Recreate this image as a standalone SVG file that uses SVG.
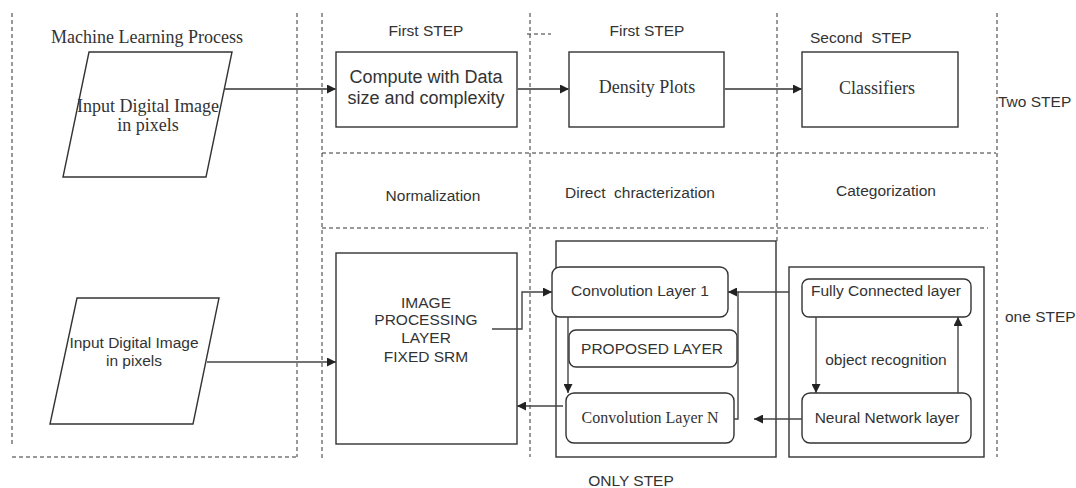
<svg xmlns="http://www.w3.org/2000/svg" width="1076" height="488" viewBox="0 0 1076 488">
<style>
.bg{fill:#fff}
.dash{fill:none;stroke:#333;stroke-width:1;stroke-dasharray:4 3}
.box{fill:#fff;stroke:#333;stroke-width:1.4}
.rbox{fill:#fff;stroke:#333;stroke-width:1.4}
.con{fill:none;stroke:#444;stroke-width:1.4}
.sans{font-family:"Liberation Sans",Arial,sans-serif;font-size:15.5px;fill:#333}
.serif{font-family:"Liberation Serif","Times New Roman",serif;font-size:18px;fill:#333}
.c{text-anchor:middle}
</style>
<defs>
<marker id="arr" viewBox="0 0 10 10" refX="10" refY="5" markerWidth="9" markerHeight="9" markerUnits="userSpaceOnUse" orient="auto">
<path d="M0,0 L10,5 L0,10 z" fill="#222"/>
</marker>
</defs>
<rect class="bg" x="0" y="0" width="1076" height="488"/>

<g id="lanes">
<line class="dash" x1="12" y1="13" x2="12" y2="447"/>
<line class="dash" x1="12" y1="457" x2="297" y2="457"/>
<line class="dash" x1="297" y1="13" x2="297" y2="457"/>
<line class="dash" x1="322" y1="13" x2="322" y2="458"/>
<line class="dash" x1="530" y1="13" x2="530" y2="457"/>
<line class="dash" x1="527" y1="34" x2="551" y2="34"/>
<line class="dash" x1="777" y1="13" x2="777" y2="241"/>
<line class="dash" x1="997" y1="13" x2="997" y2="457"/>
<line class="dash" x1="322" y1="153" x2="996" y2="153"/>
<line class="dash" x1="322" y1="228" x2="988" y2="228"/>
</g>

<g id="labels">
<text class="serif c" x="147" y="43">Machine Learning Process</text>
<text class="sans c" x="426" y="36">First STEP</text>
<text class="sans c" x="647" y="36">First STEP</text>
<text class="sans" x="810" y="43" xml:space="preserve">Second  STEP</text>
<text class="sans" x="998" y="107">Two STEP</text>
<text class="sans c" x="433" y="201">Normalization</text>
<text class="sans" x="565" y="198" xml:space="preserve">Direct  chracterization</text>
<text class="sans c" x="886" y="196">Categorization</text>
<text class="sans" x="1005" y="322">one STEP</text>
<text class="sans c" x="631" y="486">ONLY STEP</text>
</g>

<g id="input1">
<polygon class="box" points="89,52 232,52 206,177 63,177"/>
<text class="serif c" x="148" y="112">Input Digital Image</text>
<text class="serif c" x="148" y="131">in pixels</text>
</g>

<g id="compute">
<rect class="box" x="336" y="52" width="181" height="75"/>
<text class="sans c" x="426" y="83" style="font-size:18px">Compute with Data</text>
<text class="sans c" x="426" y="104" style="font-size:18px">size and complexity</text>
</g>

<g id="density">
<rect class="box" x="569" y="52" width="155" height="75"/>
<text class="serif c" x="647" y="93">Density Plots</text>
</g>

<g id="classifiers">
<rect class="box" x="802" y="52" width="156" height="75"/>
<text class="serif c" x="877" y="94">Classifiers</text>
</g>

<g id="input2">
<polygon class="box" points="77,298 219,298 193,424 50,424"/>
<text class="sans c" x="134" y="348">Input Digital Image</text>
<text class="sans c" x="134" y="366">in pixels</text>
</g>

<g id="imageproc">
<rect class="box" x="336" y="253" width="181" height="191"/>
<text class="sans c" x="426" y="308">IMAGE</text>
<text class="sans c" x="426" y="325">PROCESSING</text>
<text class="sans c" x="426" y="343">LAYER</text>
<text class="sans c" x="426" y="362">FIXED SRM</text>
</g>

<g id="onlystep">
<rect class="box" x="556" y="241" width="220" height="216"/>
</g>

<g id="conv1">
<rect class="rbox" x="552" y="267" width="176" height="50" rx="8"/>
<text class="sans c" x="640" y="296">Convolution Layer 1</text>
</g>

<g id="proposed">
<rect class="rbox" x="569" y="330" width="168" height="37" rx="7"/>
<text class="sans c" x="652" y="354">PROPOSED LAYER</text>
</g>

<g id="convN">
<rect class="rbox" x="566" y="393" width="168" height="50" rx="8"/>
<text class="serif c" x="650" y="423" style="font-size:16px">Convolution Layer N</text>
</g>

<g id="rightstep">
<rect class="box" x="789" y="267" width="195" height="190"/>
</g>

<g id="fully">
<rect class="rbox" x="802" y="279" width="169" height="38" rx="7"/>
<text class="sans c" x="886" y="296">Fully Connected layer</text>
</g>

<g id="neural">
<rect class="rbox" x="802" y="393" width="169" height="50" rx="8"/>
<text class="sans c" x="887" y="423">Neural Network layer</text>
</g>

<g id="objrec">
<text class="sans c" x="886" y="365">object recognition</text>
</g>

<g id="connectors">
<path class="con" d="M225,89 L336,89" marker-end="url(#arr)" style="stroke:#666;stroke-width:2"/>
<path class="con" d="M517,89 L569,89" marker-end="url(#arr)" style="stroke:#666;stroke-width:2"/>
<path class="con" d="M724,89 L802,89" marker-end="url(#arr)" style="stroke:#666;stroke-width:2"/>
<path class="con" d="M207,362 L336,362" marker-end="url(#arr)"/>
<path class="con" d="M492,329 L522,329 L522,292 L552,292" marker-end="url(#arr)"/>
<path class="con" d="M568,317 L568,393" marker-end="url(#arr)"/>
<path class="con" d="M563,406 L517,406" marker-end="url(#arr)"/>
<path class="con" d="M734,419 L738,419 L738,292 L728,292" marker-end="url(#arr)"/>
<path class="con" d="M789,292 L738,292"/>
<path class="con" d="M816,317 L816,393" marker-end="url(#arr)"/>
<path class="con" d="M958,393 L958,317" marker-end="url(#arr)"/>
<path class="con" d="M802,419 L754,419" marker-end="url(#arr)"/>
</g>
</svg>
